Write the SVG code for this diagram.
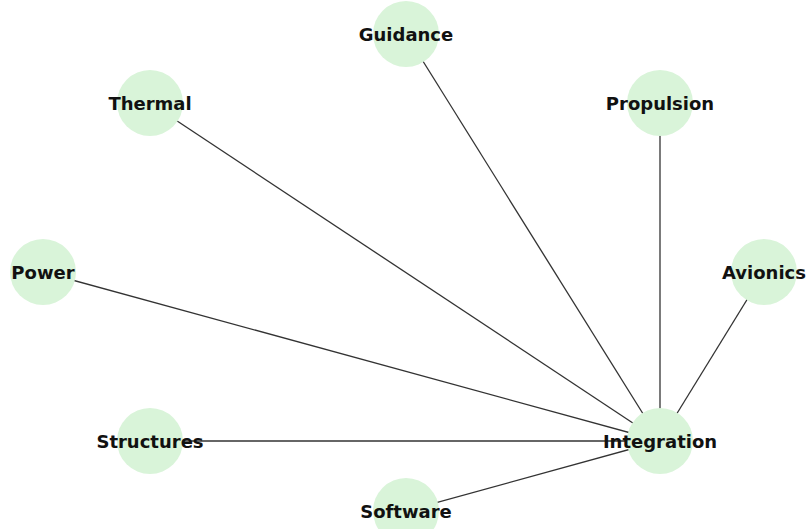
<svg xmlns="http://www.w3.org/2000/svg" width="806" height="529" viewBox="0 0 806 529">
<style>
.e{stroke:#333;stroke-width:1.3;fill:none}
.n circle{fill:#d9f4d9}
.n text{font-family:"DejaVu Sans",sans-serif;font-weight:bold;font-size:18px;fill:#111;text-anchor:middle;dominant-baseline:central}
</style>
<rect width="806" height="529" fill="#fff"/>
<g id="edges">
<line class="e" x1="660" y1="441" x2="406" y2="34"/>
<line class="e" x1="660" y1="441" x2="150" y2="103"/>
<line class="e" x1="660" y1="441" x2="660" y2="103"/>
<line class="e" x1="660" y1="441" x2="43" y2="272"/>
<line class="e" x1="660" y1="441" x2="764" y2="272"/>
<line class="e" x1="660" y1="441" x2="150" y2="441"/>
<line class="e" x1="660" y1="441" x2="406" y2="511"/>
</g>
<g id="Guidance" class="n"><circle cx="406" cy="34" r="33"/><text x="406" y="34">Guidance</text></g>
<g id="Thermal" class="n"><circle cx="150" cy="103" r="33"/><text x="150" y="103">Thermal</text></g>
<g id="Propulsion" class="n"><circle cx="660" cy="103" r="33"/><text x="660" y="103">Propulsion</text></g>
<g id="Power" class="n"><circle cx="43" cy="272" r="33"/><text x="43" y="272">Power</text></g>
<g id="Avionics" class="n"><circle cx="764" cy="272" r="33"/><text x="764" y="272">Avionics</text></g>
<g id="Structures" class="n"><circle cx="150" cy="441" r="33"/><text x="150" y="441">Structures</text></g>
<g id="Integration" class="n"><circle cx="660" cy="441" r="33"/><text x="660" y="441">Integration</text></g>
<g id="Software" class="n"><circle cx="406" cy="511" r="33"/><text x="406" y="511">Software</text></g>
</svg>
